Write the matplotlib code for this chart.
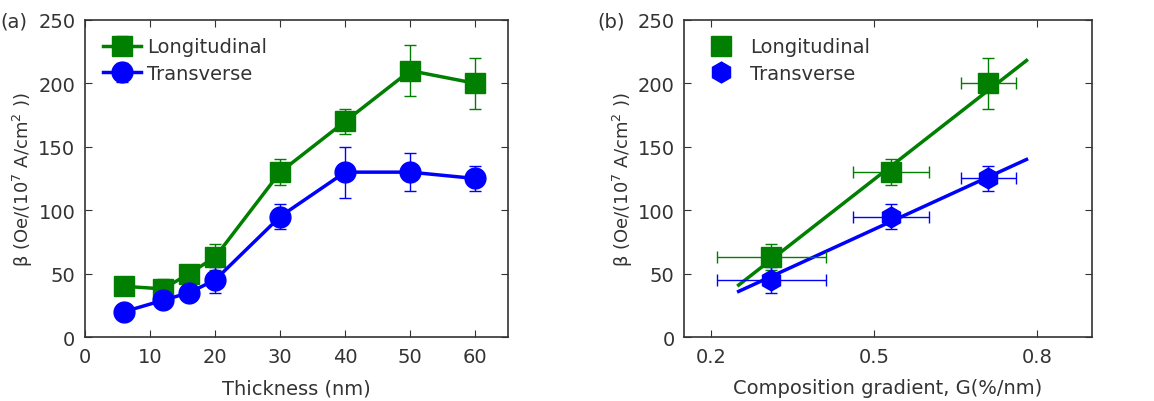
import numpy as np
import matplotlib
matplotlib.use('Agg')
import matplotlib.pyplot as plt

# panel (a): beta vs thickness
thickness = [6, 12, 16, 20, 30, 40, 50, 60]
long_a = [40, 38, 50, 63, 130, 170, 210, 200]
long_a_err = [5, 8, 7, 10, 10, 10, 20, 20]
trans_a = [20, 29, 35, 45, 95, 130, 130, 125]
trans_a_err = [4, 5, 6, 10, 10, 20, 15, 10]

# panel (b): beta vs composition gradient
grad = [0.31, 0.53, 0.71]
grad_err = [0.10, 0.07, 0.05]
long_b = [63, 130, 200]
long_b_err = [10, 10, 20]
trans_b = [45, 95, 125]
trans_b_err = [10, 10, 10]
# linear fit lines, endpoints
fit_x = [0.25, 0.78]
fit_long = [41, 218]
fit_trans = [36, 140]

green = '#007f00'
blue = '#0000ff'
txt = '#333333'
ylabel = r'$\mathregular{\beta}$ (Oe/(10$^7$ A/cm$^2$ ))'

plt.rcParams['font.family'] = 'DejaVu Sans'
plt.rcParams['text.color'] = txt
plt.rcParams['axes.labelcolor'] = txt
plt.rcParams['xtick.color'] = txt
plt.rcParams['ytick.color'] = txt

fig = plt.figure(figsize=(11.54, 4.02), dpi=100)
ax1 = fig.add_axes([0.0737, 0.159, 0.3663, 0.789])
ax2 = fig.add_axes([0.593, 0.159, 0.353, 0.789])

ax1.errorbar(thickness, long_a, yerr=long_a_err, color=green, marker='s', ms=14,
             lw=2.5, elinewidth=1, capsize=4, label='Longitudinal')
ax1.errorbar(thickness, trans_a, yerr=trans_a_err, color=blue, marker='o', ms=15,
             lw=2.5, elinewidth=1, capsize=4, label='Transverse')
ax1.set_xlim(0, 65)
ax1.set_ylim(0, 250)
ax1.set_xticks([0, 10, 20, 30, 40, 50, 60])
ax1.set_xlabel('Thickness (nm)', fontsize=14, labelpad=9)
ax1.set_ylabel(ylabel, fontsize=13, labelpad=2)
leg1 = ax1.legend(loc='upper left', frameon=False, numpoints=1, fontsize=14,
                  handlelength=2.0, handletextpad=0.3, borderaxespad=0.5,
                  labelspacing=0.4)
for t in leg1.get_texts():
    t.set_color(txt)

ax2.plot(fit_x, fit_long, color=green, lw=2.5)
ax2.plot(fit_x, fit_trans, color=blue, lw=2.5)
ax2.errorbar(grad, long_b, xerr=grad_err, yerr=long_b_err, color=green, marker='s',
             ms=14, ls='none', elinewidth=1, capsize=4, label='Longitudinal')
ax2.errorbar(grad, trans_b, xerr=grad_err, yerr=trans_b_err, color=blue, marker='h',
             ms=15, ls='none', elinewidth=1, capsize=4, label='Transverse')
ax2.set_xlim(0.15, 0.9)
ax2.set_ylim(0, 250)
ax2.set_xticks([0.2, 0.5, 0.8])
ax2.set_xlabel('Composition gradient, G(%/nm)', fontsize=14, labelpad=9)
ax2.set_ylabel(ylabel, fontsize=13, labelpad=2)
h, l = ax2.get_legend_handles_labels()
hh = [plt.Line2D([], [], color=green, marker='s', ms=14, ls='none'),
      plt.Line2D([], [], color=blue, marker='h', ms=15, ls='none')]
leg2 = ax2.legend(hh, l, loc='upper left', frameon=False, numpoints=1, fontsize=14,
                  handletextpad=0.5, borderaxespad=0.5, labelspacing=0.4)
for t in leg2.get_texts():
    t.set_color(txt)

for ax in (ax1, ax2):
    ax.tick_params(direction='in', top=True, right=True, length=5, labelsize=14, pad=7)
    for s in ax.spines.values():
        s.set_color('#333333')
        s.set_linewidth(1.2)
    ax.set_yticks([0, 50, 100, 150, 200, 250])

fig.text(0.0, 0.945, '(a)', fontsize=14, color=txt, va='center')
fig.text(0.518, 0.945, '(b)', fontsize=14, color=txt, va='center')

fig.savefig('out.png', dpi=100)
